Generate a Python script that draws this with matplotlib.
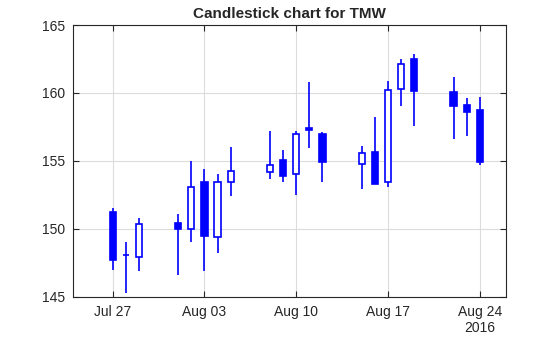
import matplotlib
matplotlib.use("Agg")
import matplotlib.pyplot as plt
import matplotlib.dates as mdates
import numpy as np
import datetime as dt

plt.rcParams['font.family'] = ['Liberation Sans', 'DejaVu Sans']

dates = ["2016-07-27", "2016-07-28", "2016-07-29", "2016-08-01", "2016-08-02",
         "2016-08-03", "2016-08-04", "2016-08-05", "2016-08-08", "2016-08-09",
         "2016-08-10", "2016-08-11", "2016-08-12", "2016-08-15", "2016-08-16",
         "2016-08-17", "2016-08-18", "2016-08-19", "2016-08-22", "2016-08-23",
         "2016-08-24"]
opens = [151.23, 148.05, 147.89, 150.42, 150.00, 153.46, 149.39, 153.43, 154.17, 155.05,
         154.04, 157.40, 156.96, 154.75, 155.64, 153.43, 160.27, 162.48, 160.05, 159.12,
         158.73]
closes = [147.70, 148.10, 150.34, 149.97, 153.07, 149.46, 153.46, 154.24, 154.68, 153.85,
          156.96, 157.28, 154.95, 155.61, 153.28, 160.20, 162.11, 160.17, 159.07, 158.63,
          154.88]
highs = [151.52, 149.02, 150.78, 151.10, 154.98, 154.39, 154.02, 156.00, 157.18, 155.78,
         157.20, 160.79, 157.11, 156.10, 158.21, 160.86, 162.48, 162.85, 161.15, 159.61,
         159.68]
lows = [146.99, 145.27, 146.91, 146.59, 149.02, 146.91, 148.21, 152.40, 153.70, 153.43,
        152.48, 155.98, 153.43, 152.92, 153.28, 153.11, 159.02, 157.55, 156.59, 156.86,
        154.68]

tick_dates = ["2016-07-27", "2016-08-03", "2016-08-10", "2016-08-17", "2016-08-24"]
tick_labels = ["Jul 27", "Aug 03", "Aug 10", "Aug 17", "Aug 24\n2016"]
y_ticks = [145, 150, 155, 160, 165]

title = "Candlestick chart for TMW"
blue = "#0000ff"
txt = "#262626"

x = mdates.date2num([dt.datetime.strptime(d, "%Y-%m-%d") for d in dates])
o = np.array(opens); c = np.array(closes)
h = np.array(highs); l = np.array(lows)

fig = plt.figure(figsize=(5.6, 3.37), dpi=100)
ax = fig.add_axes([0.131, 0.1196, 0.7726, 0.8062])

ax.vlines(x, l, h, color=blue, linewidth=1.2, zorder=2)
bottom = np.minimum(o, c)
height = np.abs(c - o)
face = [blue if cc < oo else "white" for oo, cc in zip(o, c)]
ax.bar(x, height, bottom=bottom, width=0.47, color=face, edgecolor=blue,
       linewidth=1.2, zorder=3)

ax.set_xlim(mdates.date2num(dt.datetime(2016, 7, 24)), mdates.date2num(dt.datetime(2016, 8, 26)))
ax.set_ylim(145, 165)
ax.set_yticks(y_ticks)
ax.set_xticks(mdates.date2num([dt.datetime.strptime(d, "%Y-%m-%d") for d in tick_dates]))
ax.set_xticklabels(tick_labels, fontsize=10, color=txt)
ax.set_yticklabels([str(v) for v in y_ticks], fontsize=10, color=txt)

ax.grid(True, color="#dcdcdc", linewidth=0.8, zorder=0)
ax.set_axisbelow(True)
ax.tick_params(direction="in", length=4, width=0.8, top=True, right=True,
               colors=txt, labelcolor=txt, pad=6)
for s in ax.spines.values():
    s.set_color(txt)
    s.set_linewidth(0.8)

ax.set_title(title, fontsize=11, fontweight="bold", color=txt, pad=5)

fig.savefig("out.png", dpi=100)
